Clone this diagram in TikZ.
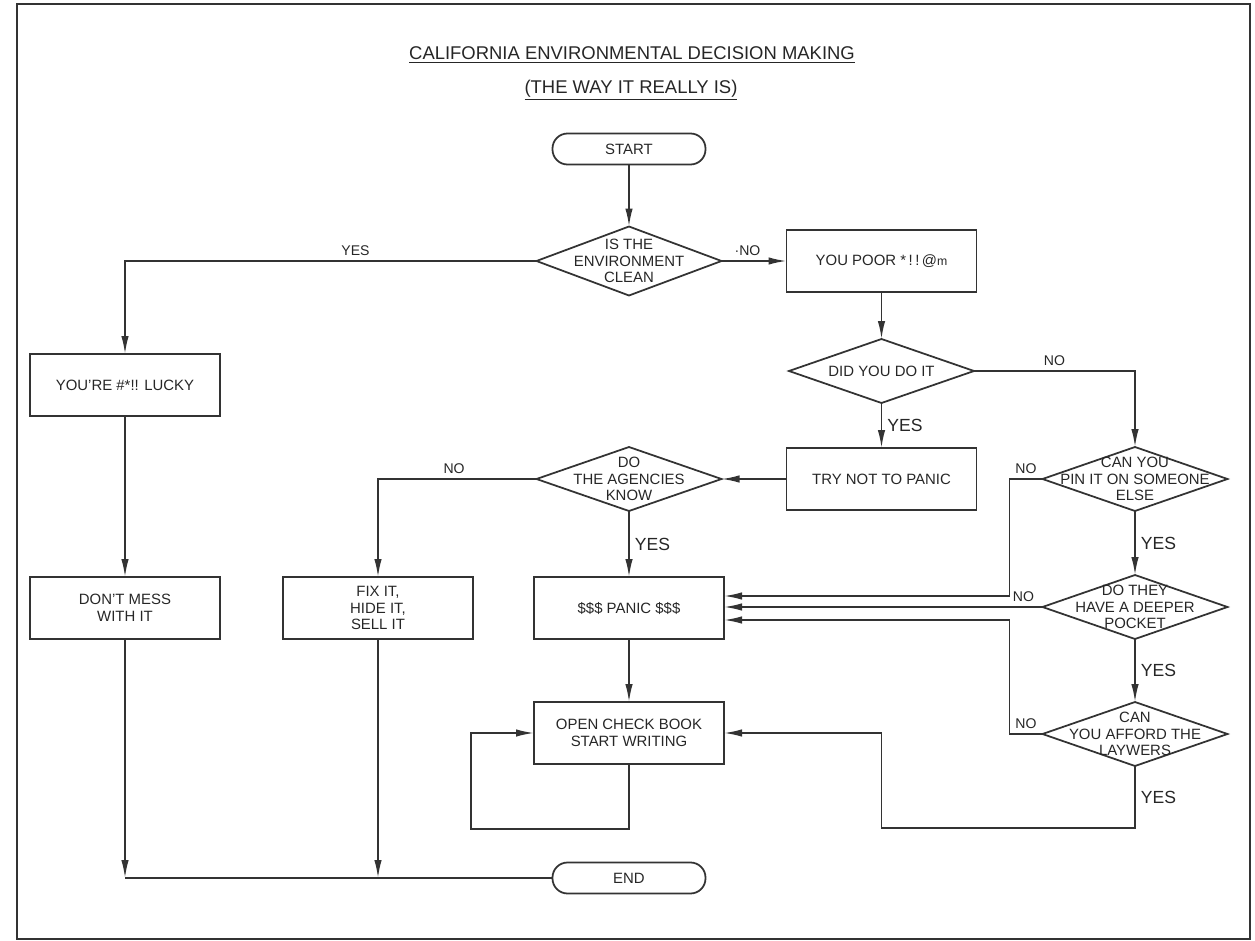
\documentclass[tikz,border=0pt]{standalone}
\usepackage{fontspec}
\setmainfont{Liberation Sans}
\usepackage{xcolor}
\usepackage{tikz}
\usetikzlibrary{positioning, arrows.meta, shapes.geometric}

\begin{document}
\begin{tikzpicture}[
    node distance=1.28cm,
    line width=1pt,
    draw=black!80,
    every node/.style={
        align=center,
        outer sep=0pt,
        text=black!85,
        font=\fontsize{8.5}{9.5}\selectfont
    },
    process/.style={draw, rectangle, minimum width=3.8cm, minimum height=1.24cm},
    decision/.style={draw, diamond, inner sep=0pt, minimum width=3.7cm, minimum height=1.28cm},
    terminal/.style={draw, rectangle, rounded corners=3mm, minimum width=3.06cm, minimum height=0.62cm},
    arrow/.style={-{Latex[length=3.6mm,width=1.5mm]}},
    yes/.style={right, font=\fontsize{10}{12}\selectfont},
    no/.style={above, font=\fontsize{8}{10}\selectfont}
]

\useasboundingbox (0,0) rectangle (25.1,-18.82);
\draw[line width=1.1pt] (0.34,-0.08) rectangle (25.0,-18.78);

% title
\node[font=\fontsize{10.5}{12}\selectfont] (title) at (12.64,-1.1) {\underline{CALIFORNIA ENVIRONMENTAL DECISION MAKING}};
\node[font=\fontsize{10.5}{12}\selectfont] (subtitle) at (12.62,-1.8) {\underline{(THE WAY IT REALLY IS)}};

% main column
\node[terminal] (start) at (12.58,-2.98) {START};
\node[decision, minimum height=1.38cm, label={[align=center]center:IS THE\\ENVIRONMENT\\CLEAN}] (clean) [below=1.24cm of start] {};
\node[process] (poor) [right=1.3cm of clean] {YOU POOR *\,!\,!\,@{\scriptsize m}};
\node[decision, label={center:DID YOU DO IT}] (didit) [below=0.94cm of poor] {};
\node[process] (try) [below=0.9cm of didit] {TRY NOT TO PANIC};
\node[decision, label={[align=center]center:DO\\THE AGENCIES\\KNOW}] (agencies) [left=1.3cm of try] {};
\node[process] (panic) [below=1.32cm of agencies] {\$\$\$ PANIC \$\$\$};
\node[process] (checkbook) [below=1.26cm of panic] {OPEN CHECK BOOK\\START WRITING};
\node[terminal] (end) [below=1.97cm of checkbook] {END};

% right column
\node[decision, label={[align=center]center:CAN YOU\\PIN IT ON SOMEONE\\ELSE}] (pin) [right=1.32cm of try] {};
\node[decision, label={[align=center]center:DO THEY\\HAVE A DEEPER\\POCKET}] (pocket) [below=of pin] {};
\node[decision, label={[align=center]center:CAN\\YOU AFFORD THE\\LAYWERS}] (afford) [below=1.26cm of pocket] {};

% left side
\node[process] (fix) [left=1.22cm of panic] {FIX IT,\\HIDE IT,\\SELL IT};
\node[process] (dontmess) [left=1.26cm of fix] {DON'T MESS\\WITH IT};
\node[process] (lucky) [above=3.22cm of dontmess] {YOU'RE \#*!! LUCKY};

\coordinate (joinL) at (dontmess.south |- end.west);
\coordinate (joinF) at (fix.south |- end.west);

\draw[arrow] (start) -- (clean);
\draw[arrow] (clean.west) -| node[no, pos=0.22]{YES} (lucky.north);
\draw[arrow] (clean.east) -- node[no, pos=0.4]{·NO} (poor.west);
\draw[arrow] (poor) -- (didit);
\draw[arrow] (didit) -- node[yes]{YES} (try);
\draw[arrow] (didit.east) -| node[no, pos=0.25]{NO} (pin.north);
\draw[arrow] (try) -- (agencies);
\draw[arrow] (agencies.west) -| node[no, pos=0.26]{NO} (fix.north);
\draw[arrow] (agencies) -- node[yes]{YES} (panic);
\draw[arrow] (pin) -- node[yes]{YES} (pocket);
\draw[arrow] (pocket) -- node[yes]{YES} (afford);
\draw[arrow] (pin.west) -- node[no]{NO} ++(-0.66,0) |- ([yshift=0.24cm]panic.east);
\draw[arrow] (pocket.west) -- node[no, pos=0.06]{NO} (pocket.west -| panic.east);
\draw[arrow] (afford.west) -- node[no]{NO} ++(-0.66,0) |- ([yshift=-0.24cm]panic.east);
\draw[arrow] (afford.south) -- node[yes]{YES} ++(0,-1.24) -| (try.south |- checkbook.east) -- (checkbook.east);
\draw[arrow] (panic) -- (checkbook);
\draw[arrow] (checkbook.south) -- ++(0,-1.3) -| ([xshift=-1.26cm]checkbook.west) -- (checkbook.west);
\draw[arrow] (lucky) -- (dontmess);
\draw[arrow] (dontmess) -- (joinL);
\draw[arrow] (fix) -- (joinF);
\draw (joinL) -- (end);

\end{tikzpicture}
\end{document}
